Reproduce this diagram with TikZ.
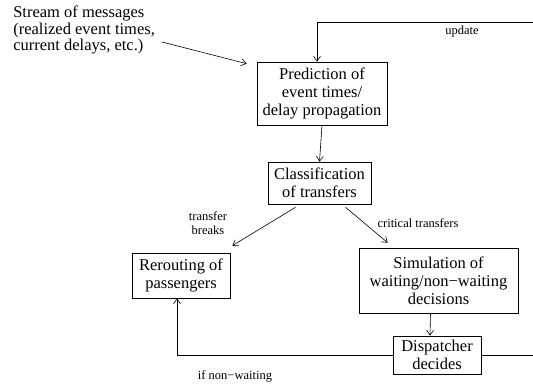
\documentclass[tikz,border=0pt]{standalone}
\usepackage{fontspec}
\setmainfont{Liberation Serif}
\usetikzlibrary{arrows.meta,calc}
\begin{document}
\begin{tikzpicture}[x=1pt,y=1pt,
  line width=0.6pt,
  >={Straight Barb[length=5pt,width=7pt]},
  box/.style={draw,align=center,inner sep=0pt,font=\fontsize{16.5}{18}\selectfont},
  lbl/.style={align=center,inner sep=0pt,font=\fontsize{12.5}{14}\selectfont}]
\clip (0,0) rectangle (533,385);
\node[box,minimum width=130,minimum height=63] (pred) at (322,291.5) {Prediction of\\event times/\\delay propagation};
\node[box,minimum width=103,minimum height=42] (class) at (319.5,202) {Classification\\of transfers};
\node[box,minimum width=98,minimum height=45] (rer) at (181,109.5) {Rerouting of\\passengers};
\node[box,minimum width=159,minimum height=65] (sim) at (438.5,104.5) {Simulation of\\waiting/non−waiting\\decisions};
\node[box,minimum width=88,minimum height=38] (disp) at (437,30) {Dispatcher\\decides};
\node[align=left,anchor=north west,inner sep=0pt,font=\fontsize{16.5}{16.5}\selectfont] (stream) at (13,379) {Stream of messages\\(realized event times,\\current delays, etc.)};
\node[lbl] (upd) at (462,353) {update};
\node[lbl] (tb) at (208,162) {transfer\\breaks};
\node[lbl] (ct) at (418,162) {critical transfers};
\node[lbl] (nw) at (235,9) {if non−waiting};
\coordinate (s1) at (162,343);
\coordinate (topr) at (540,363);
\coordinate (botr) at (540,30);
\draw[->] (s1) -- ($(pred.north west)+(-10,-2)$);
\draw[->] (pred.south) -- (class.north);
\draw[->] ($(class.south)+(-24,-3)$) -- ($(rer.north east)+(2,7)$);
\draw[->] ($(class.south)+(26,-3)$) -- ($(sim.north west)+(29,5)$);
\draw[->] ($(sim.south)+(-8,0)$) -- ($(disp.north)+(-7,0)$);
\draw[->] (disp.west) -| ($(rer.south)+(-4,0)$);
\draw[->] (disp.east) -- (botr) -- (topr) -| ($(pred.north)+(-5,0)$);
\end{tikzpicture}
\end{document}
